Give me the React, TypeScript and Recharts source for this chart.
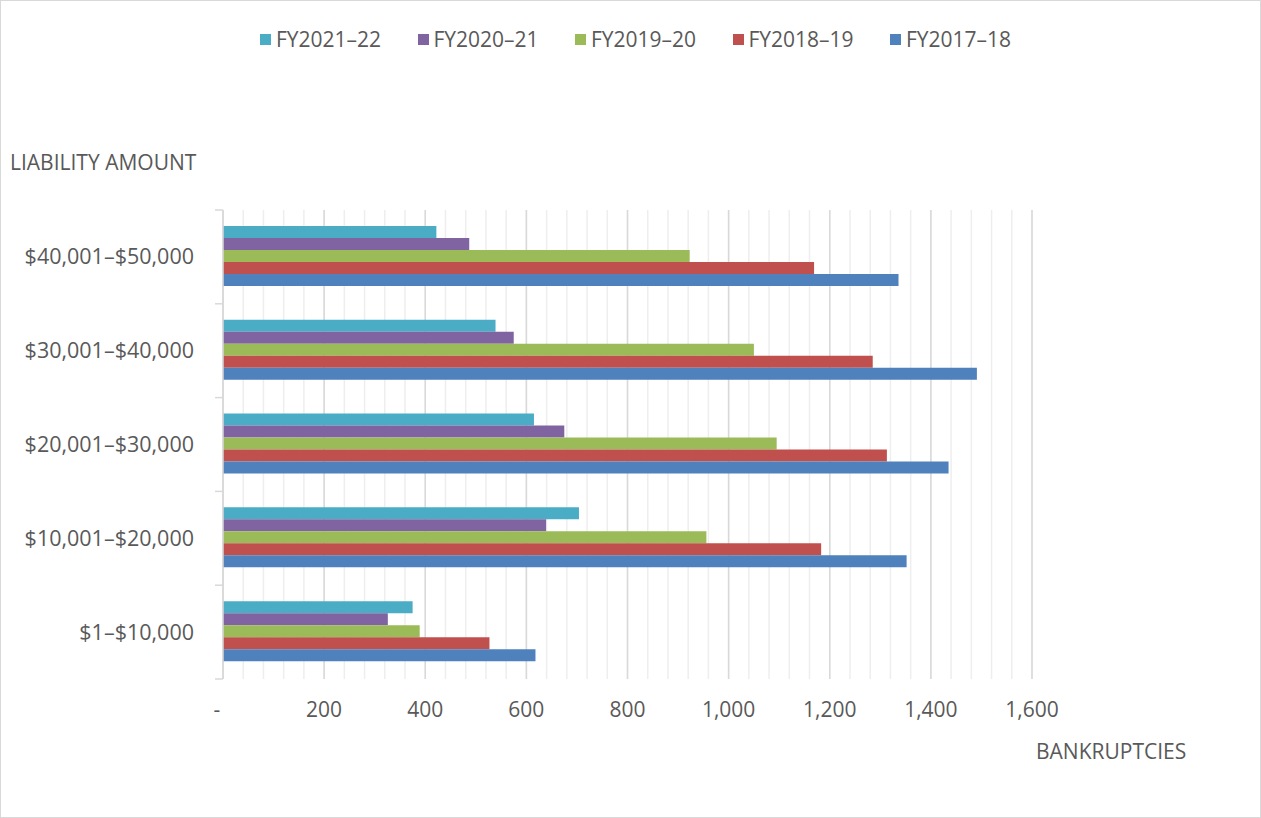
import React from "react";
import { BarChart, Bar, XAxis, YAxis, CartesianGrid, Legend } from "recharts";

const categories = [
  "$40,001–$50,000",
  "$30,001–$40,000",
  "$20,001–$30,000",
  "$10,001–$20,000",
  "$1–$10,000",
];
const fy2021_22 = [422, 539, 615, 704, 375];
const fy2020_21 = [487, 575, 675, 639, 326];
const fy2019_20 = [923, 1050, 1095, 956, 389];
const fy2018_19 = [1169, 1285, 1313, 1183, 527];
const fy2017_18 = [1336, 1491, 1435, 1352, 618];

const seriesNames = ["FY2021–22", "FY2020–21", "FY2019–20", "FY2018–19", "FY2017–18"];
const seriesKeys = ["fy2021_22", "fy2020_21", "fy2019_20", "fy2018_19", "fy2017_18"];
const seriesColors = ["#4BACC6", "#8064A2", "#9BBB59", "#C0504D", "#4F81BD"];
const xTicks = [0, 200, 400, 600, 800, 1000, 1200, 1400, 1600];
const minorTicks = [
  0, 40, 80, 120, 160, 200, 240, 280, 320, 360, 400, 440, 480, 520, 560, 600, 640, 680, 720, 760, 800,
  840, 880, 920, 960, 1000, 1040, 1080, 1120, 1160, 1200, 1240, 1280, 1320, 1360, 1400, 1440, 1480,
  1520, 1560, 1600,
];
const X_MAX = 1600;

const data = categories.map((c, i) => ({
  category: c,
  fy2021_22: fy2021_22[i],
  fy2020_21: fy2020_21[i],
  fy2019_20: fy2019_20[i],
  fy2018_19: fy2018_19[i],
  fy2017_18: fy2017_18[i],
}));

const FONT = "'Open Sans', sans-serif";
const TEXT = "#595959";
const Y_TICK_SIZE = 8;
const Y_TICK_MARGIN = 21;

const YTick = (props: any) => {
  const { x, y, payload, index, visibleTicksCount } = props;
  const half = payload && typeof payload.offset === "number" && payload.offset > 0 ? payload.offset : 46.9;
  const axisX = x + Y_TICK_SIZE + Y_TICK_MARGIN;
  return (
    <g>
      <text x={x} y={y} dy="0.35em" textAnchor="end" fill={TEXT} fontSize={21.5} fontFamily={FONT}>
        {payload.value}
      </text>
      <line x1={axisX - 8} x2={axisX} y1={y - half} y2={y - half} stroke="#d9d9d9" strokeWidth={1.5} />
      {index === visibleTicksCount - 1 && (
        <line x1={axisX - 8} x2={axisX} y1={y + half} y2={y + half} stroke="#d9d9d9" strokeWidth={1.5} />
      )}
    </g>
  );
};

const XTick = (props: any) => {
  const { x, y, payload } = props;
  const v = payload.value;
  const label = v === 0 ? "-" : Number(v).toLocaleString("en-US");
  return (
    <text x={v === 0 ? x - 6 : x} y={y} dy="0.71em" textAnchor="middle" fill={TEXT} fontSize={21} fontFamily={FONT}>
      {label}
    </text>
  );
};

const LegendContent = (props: any) => {
  const payload = [...(props.payload || [])].sort(
    (a: any, b: any) => seriesNames.indexOf(a.value) - seriesNames.indexOf(b.value)
  );
  return (
    <div style={{ display: "flex", fontFamily: FONT }}>
      {payload.map((p: any) => (
        <div key={p.value} style={{ width: 157.5, display: "flex", alignItems: "center", flexShrink: 0 }}>
          <span style={{ width: 11, height: 11, background: p.color, display: "inline-block", marginRight: 5 }} />
          <span style={{ color: TEXT, fontSize: 21, lineHeight: "27px" }}>{p.value}</span>
        </div>
      ))}
    </div>
  );
};

const minorGen = (args: any) => {
  const xAxis = args && args.xAxis;
  if (xAxis && typeof xAxis.scale === "function") {
    return minorTicks.map((v) => xAxis.scale(v));
  }
  const off = args.offset;
  return minorTicks.map((v) => off.left + (v / X_MAX) * off.width);
};

export default function App() {
  return (
    <div
      style={{
        position: "absolute",
        left: 0,
        top: 0,
        width: 1261,
        height: 818,
        boxSizing: "border-box",
        border: "1px solid #d9d9d9",
        background: "#fff",
        fontFamily: FONT,
      }}
    >
      <div style={{ position: "absolute", left: 9, top: 147, fontSize: 21, color: TEXT, fontFamily: FONT, whiteSpace: "nowrap" }}>
        LIABILITY AMOUNT
      </div>
      <div style={{ position: "absolute", left: 1035, top: 736, fontSize: 21, color: TEXT, fontFamily: FONT, whiteSpace: "nowrap" }}>
        BANKRUPTCIES
      </div>
      <div style={{ position: "absolute", left: -1, top: -1 }}>
        <BarChart
          width={1261}
          height={818}
          data={data}
          layout="vertical"
          margin={{ top: 210, right: 229, bottom: 99, left: 0 }}
          barCategoryGap="17%"
          barGap={0}
        >
          <CartesianGrid
            horizontal={false}
            stroke="#eeeeee"
            strokeWidth={1.5}
            verticalCoordinatesGenerator={minorGen}
          />
          <CartesianGrid horizontal={false} stroke="#d9d9d9" strokeWidth={1.5} />
          <XAxis
            type="number"
            domain={[0, X_MAX]}
            ticks={xTicks}
            axisLine={false}
            tickLine={false}
            tickSize={6}
            tickMargin={17}
            height={40}
            tick={<XTick />}
            interval={0}
          />
          <YAxis
            type="category"
            dataKey="category"
            width={223}
            axisLine={{ stroke: "#d9d9d9", strokeWidth: 1.5 }}
            tickLine={false}
            tickSize={Y_TICK_SIZE}
            tickMargin={Y_TICK_MARGIN}
            tick={<YTick />}
            interval={0}
          />
          <Legend
            layout="horizontal"
            verticalAlign="middle"
            align="center"
            wrapperStyle={{ top: 26, left: 260, width: 900, height: 27 }}
            content={<LegendContent />}
          />
          {seriesKeys.map((k, i) => (
            <Bar key={k} dataKey={k} name={seriesNames[i]} fill={seriesColors[i]} isAnimationActive={false} />
          ))}
        </BarChart>
      </div>
    </div>
  );
}
